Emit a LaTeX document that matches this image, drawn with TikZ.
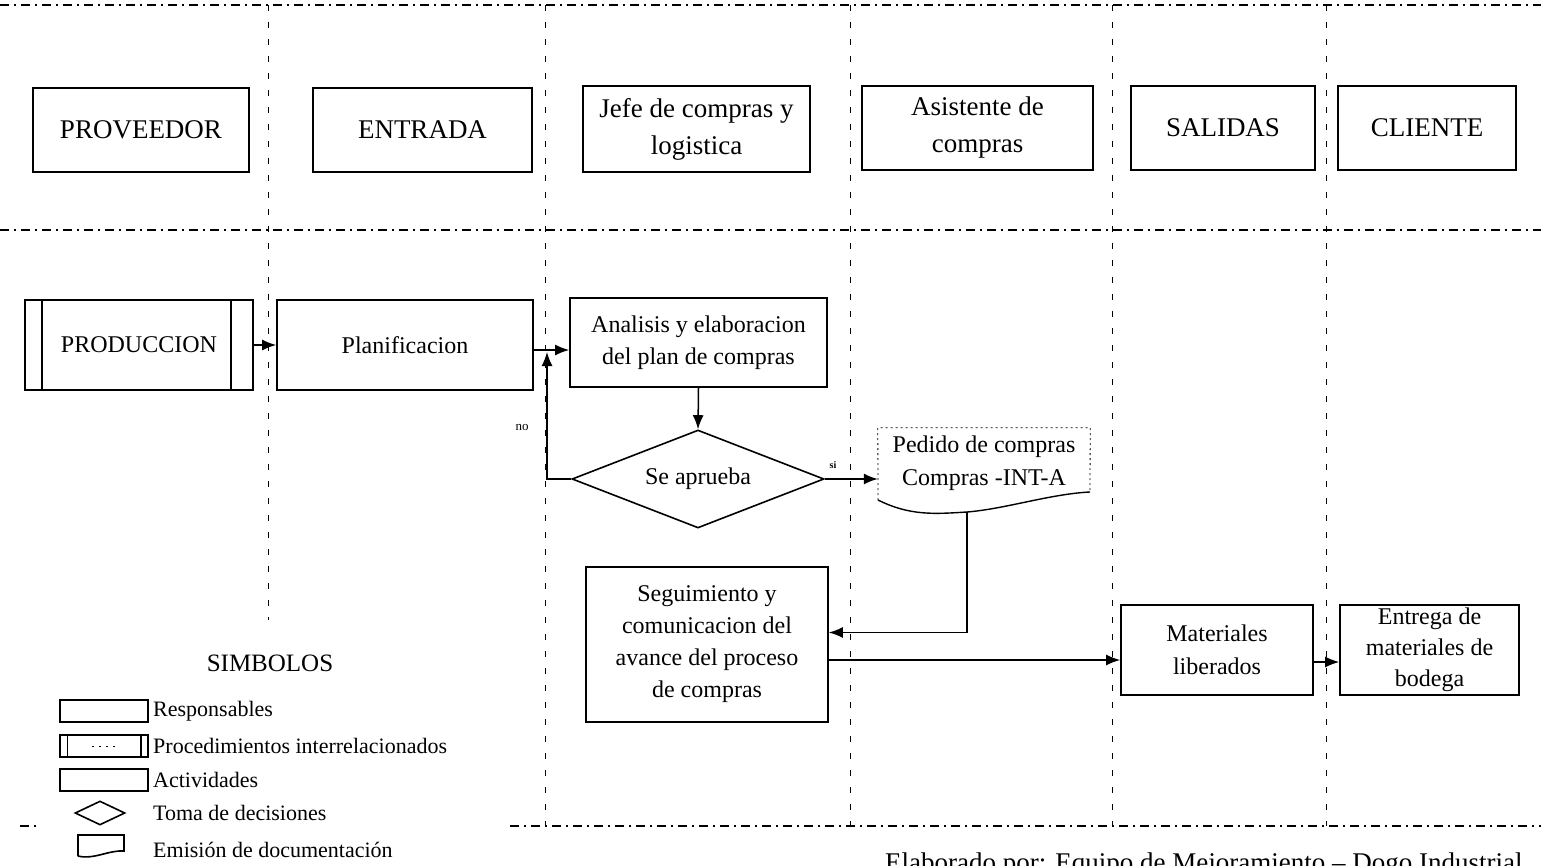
\documentclass[tikz,border=0pt]{standalone}
\usepackage{fontspec}
\setmainfont{Liberation Serif}
\usetikzlibrary{arrows.meta,shapes.geometric}
\begin{document}
\begin{tikzpicture}[x=1pt,y=-1pt,
  box/.style={draw, line width=1.6pt, inner sep=0pt, align=center,
    font=\fontsize{24}{32}\selectfont},
  head/.style={box, font=\fontsize{27}{37}\selectfont},
  arr/.style={line width=1.5pt, -{Latex[length=14pt,width=11pt]}},
  lane/.style={line width=1pt, dash pattern=on 6pt off 11pt},
  band/.style={line width=2pt, dash pattern=on 9pt off 5pt on 2pt off 5pt},
  docside/.style={line width=0.8pt, dash pattern=on 2pt off 3pt},
  legtxt/.style={anchor=west, inner sep=0pt, font=\fontsize{22}{26}\selectfont},
  legbox/.style={draw, line width=1.6pt, inner sep=0pt, minimum width=88pt, minimum height=22pt}
]
\useasboundingbox (0,0) rectangle (1541,866);

% swimlane grid
\draw[band] (0,5) -- (1541,5);
\draw[band] (0,230) -- (1541,230);
\draw[band] (510,826) -- (1541,826);
\draw[band] (20,826) -- (36,826);
\draw[lane] (268,5) -- (268,620);
\draw[lane] (545,5) -- (545,826);
\draw[lane] (850,5) -- (850,826);
\draw[lane] (1112,5) -- (1112,826);
\draw[lane] (1326,5) -- (1326,826);

% lane headers
\node[head, minimum width=216pt, minimum height=84pt] (prov) at (141,130) {PROVEEDOR};
\node[head, minimum width=219pt, minimum height=84pt] (entr) at (422.5,130) {ENTRADA};
\node[head, minimum width=227pt, minimum height=86pt] (jefe) at (696.5,129) {Jefe de compras y\\logistica};
\node[head, minimum width=231pt, minimum height=84pt] (asis) at (977.5,128) {Asistente de\\compras};
\node[head, minimum width=184pt, minimum height=84pt] (sali) at (1223,128) {SALIDAS};
\node[head, minimum width=178pt, minimum height=84pt] (clie) at (1427,128) {CLIENTE};

% process
\node[box, minimum width=228pt, minimum height=90pt] (prod) at (139,345) {PRODUCCION};
\draw[line width=1.6pt] ([xshift=18pt]prod.north west) -- ([xshift=18pt]prod.south west);
\draw[line width=1.6pt] ([xshift=-23pt]prod.north east) -- ([xshift=-23pt]prod.south east);
\node[box, minimum width=256pt, minimum height=90pt] (plan) at (405,345) {Planificacion};
\node[box, minimum width=257pt, minimum height=89pt] (ana) at (698.5,342.5) {Analisis y elaboracion\\del plan de compras};
\node[box, shape=diamond, aspect=2.57, minimum width=252pt, minimum height=98pt] (dia) at (698,479) {Se aprueba};
\node[inner sep=0pt, minimum width=212pt, minimum height=70pt, align=center,
      font=\fontsize{24}{33}\selectfont] (doc) at (984,463) {Pedido de compras\\Compras -INT-A};
\draw[docside] (878,500) -- (doc.north west) -- (doc.north east) -- (1090,492);
\coordinate (docbot) at (967,512);
\draw[line width=1.4pt] (878,500) .. controls (910,516) and (935,514) .. (docbot)
  .. controls (1005,509) and (1050,494) .. (1090,492);
\node[box, minimum width=242pt, minimum height=155pt] (seg) at (707,644.5)
  {Seguimiento y\\comunicacion del\\avance del proceso\\de compras};
\node[box, minimum width=192pt, minimum height=90pt, font=\fontsize{24}{33}\selectfont] (mat) at (1217,650) {Materiales\\liberados};
\node[box, minimum width=179pt, minimum height=90pt, font=\fontsize{24}{31}\selectfont] (ent) at (1429.5,650) {Entrega de\\materiales de\\bodega};

% connectors
\draw[arr] (prod.east) -- (plan.west);
\draw[arr] ([yshift=-5pt]plan.east) -- ([yshift=-5pt]plan.east -| ana.west);
\draw[arr] (ana.south) -- (dia.north);
\coordinate (fbk) at (547,479);
\coordinate (fbtop) at (547,352);
\draw[arr] (dia.west) -- (fbk) -- (fbtop);
\node[font=\fontsize{13}{13}\selectfont, inner sep=0pt] (lno) at (522,427) {no};
\draw[arr] (dia.east) -- (dia.east -| doc.west);
\node[font=\fontsize{10}{10}\selectfont\bfseries, inner sep=0pt] (lsi) at (833,465) {si};
\draw[arr] (docbot) |- ([yshift=12pt]seg.east);
\draw[arr] ([yshift=-10pt]mat.west -| seg.east) -- ([yshift=-10pt]mat.west);
\draw[arr] ([yshift=-12pt]mat.east) -- ([yshift=-12pt]ent.west);

% legend
\node[inner sep=0pt, font=\fontsize{25}{25}\selectfont] (simb) at (270,663) {SIMBOLOS};
\node[legbox] (lr) at (104,711) {};
\node[legtxt] (tr) at (153,711) {Responsables};
\node[legbox] (lp) at (104,746) {};
\draw[line width=1.4pt] ([xshift=8pt]lp.north west) -- ([xshift=8pt]lp.south west);
\draw[line width=1.4pt] ([xshift=-8pt]lp.north east) -- ([xshift=-8pt]lp.south east);
\draw[line width=0.8pt, dash pattern=on 2pt off 5pt] ([xshift=-12pt]lp.center) -- ([xshift=12pt]lp.center);
\node[legtxt] (tp) at (153,746) {Procedimientos interrelacionados};
\node[legbox] (la) at (104,780) {};
\node[legtxt] (ta) at (153,780) {Actividades};
\node[draw, line width=1.6pt, shape=diamond, aspect=2.1, inner sep=0pt, minimum width=50pt, minimum height=24pt] (ld) at (100,813) {};
\node[legtxt] (td) at (153,813) {Toma de decisiones};
\draw[line width=1.6pt] (78,856) -- (78,835) -- (124,835) -- (124,851)
  .. controls (108,850) and (94,860) .. (78,856);
\node[legtxt] (te) at (153,850) {Emisión de documentación};

% footer
\node[anchor=base west, inner sep=0pt, font=\fontsize{27}{27}\selectfont] (foot) at (885,871)
  {Elaborado por: Equipo de Mejoramiento – Dogo Industrial};
\end{tikzpicture}
\end{document}
